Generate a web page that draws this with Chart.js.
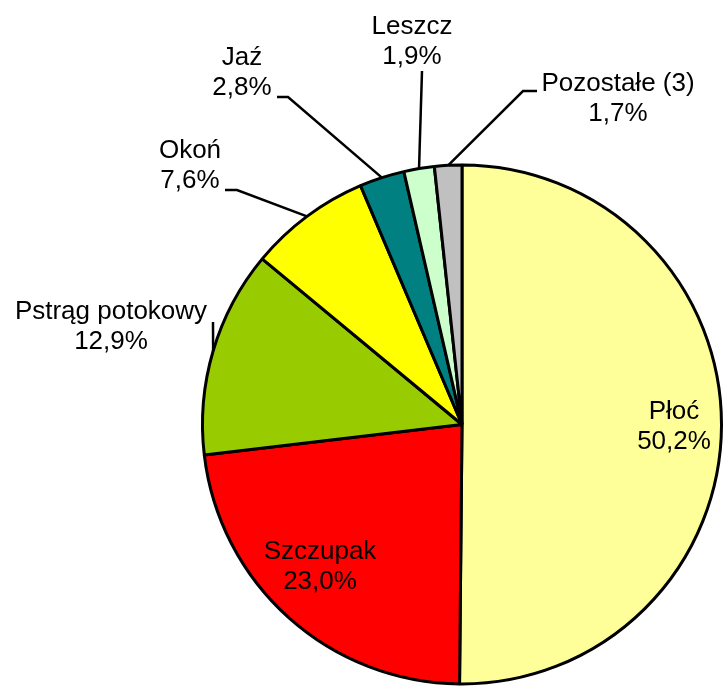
<!DOCTYPE html>
<html>
<head>
<meta charset="utf-8">
<script src="https://cdn.jsdelivr.net/npm/chart.js@4/dist/chart.umd.min.js"></script>
<style>
  html, body { margin: 0; padding: 0; background: #fff; overflow: hidden; }
  #wrap { width: 723px; height: 686px; position: relative; }
</style>
</head>
<body>
<div id="wrap"><canvas id="pie"></canvas></div>
<script>
// dane
const species = ["Płoć", "Szczupak", "Pstrąg potokowy", "Okoń", "Jaź", "Leszcz", "Pozostałe (3)"];
const shares = [50.2, 23.0, 12.9, 7.6, 2.8, 1.9, 1.7];
const sliceColors = ["#FFFF99", "#FF0000", "#99CC00", "#FFFF00", "#008080", "#CCFFCC", "#C0C0C0"];

// rozmieszczenie etykiet (środek bloku tekstu) i punkty linii odniesienia
const labelAt = [[674, 427], [320, 567], [111, 327], [190, 166], [242, 73], [412, 42], [618, 99]];
const leaderVia = [null, null, [[213, 322]], [[237, 190], [225, 190]], [[288, 97], [277, 97]], [[422, 71]], [[523, 91], [537, 91]]];

const fmt = (v) => v.toFixed(1).replace(".", ",") + "%";

const labelPlugin = {
  id: "sliceLabels",
  afterDatasetsDraw(chart) {
    const ctx = chart.ctx;
    const arcs = chart.getDatasetMeta(0).data;
    ctx.save();
    ctx.strokeStyle = "#000";
    ctx.lineWidth = 2.5;
    arcs.forEach((arc, i) => {
      const via = leaderVia[i];
      if (!via) return;
      const mid = (arc.startAngle + arc.endAngle) / 2;
      ctx.beginPath();
      ctx.moveTo(arc.x + Math.cos(mid) * arc.outerRadius, arc.y + Math.sin(mid) * arc.outerRadius);
      via.forEach((p) => ctx.lineTo(p[0], p[1]));
      ctx.stroke();
    });
    ctx.fillStyle = "#000";
    ctx.font = '26px "Liberation Sans", Arial, sans-serif';
    ctx.textAlign = "center";
    ctx.textBaseline = "middle";
    species.forEach((name, i) => {
      const [x, y] = labelAt[i];
      ctx.fillText(name, x, y - 15);
      ctx.fillText(fmt(shares[i]), x, y + 15);
    });
    ctx.restore();
  },
};

new Chart(document.getElementById("pie"), {
  type: "pie",
  data: {
    labels: species,
    datasets: [
      {
        data: shares,
        backgroundColor: sliceColors,
        borderColor: "#000",
        borderWidth: 3,
      },
    ],
  },
  options: {
    responsive: true,
    maintainAspectRatio: false,
    animation: false,
    layout: { padding: { left: 201, top: 163, right: 0, bottom: 0 } },
    plugins: { legend: { display: false }, tooltip: { enabled: false } },
  },
  plugins: [labelPlugin],
});
</script>
</body>
</html>
